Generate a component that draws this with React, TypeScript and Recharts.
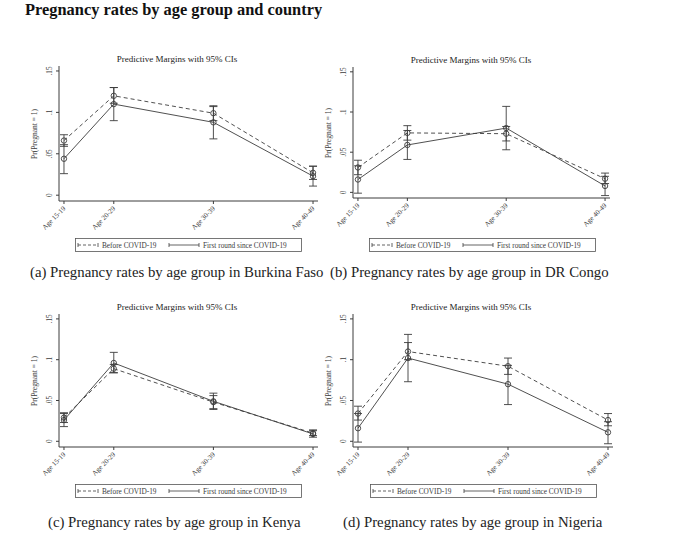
import React from 'react';
import { ErrorBar, Line, LineChart, XAxis, YAxis } from 'recharts';

const ageX = [15, 20, 30, 40];
const ageLabels = ['Age 15-19', 'Age 20-29', 'Age 30-39', 'Age 40-49'];
const yTicks = [0, 0.05, 0.1, 0.15];
const yTickLabels = ['0', '.05', '.1', '.15'];

// Burkina Faso
const bfBefore = [0.066, 0.12, 0.099, 0.027];
const bfBeforeLo = [0.059, 0.111, 0.09, 0.019];
const bfBeforeHi = [0.073, 0.13, 0.108, 0.035];
const bfAfter = [0.044, 0.11, 0.088, 0.023];
const bfAfterLo = [0.026, 0.09, 0.068, 0.011];
const bfAfterHi = [0.061, 0.13, 0.107, 0.035];

// DR Congo
const drBefore = [0.031, 0.074, 0.073, 0.017];
const drBeforeLo = [0.022, 0.065, 0.064, 0.011];
const drBeforeHi = [0.04, 0.083, 0.082, 0.024];
const drAfter = [0.016, 0.059, 0.08, 0.008];
const drAfterLo = [-0.001, 0.041, 0.053, -0.004];
const drAfterHi = [0.033, 0.077, 0.107, 0.02];

// Kenya
const keBefore = [0.029, 0.089, 0.048, 0.01];
const keBeforeLo = [0.023, 0.084, 0.04, 0.007];
const keBeforeHi = [0.035, 0.094, 0.056, 0.013];
const keAfter = [0.026, 0.096, 0.049, 0.009];
const keAfterLo = [0.018, 0.084, 0.039, 0.005];
const keAfterHi = [0.034, 0.109, 0.059, 0.014];

// Nigeria
const ngBefore = [0.034, 0.11, 0.092, 0.026];
const ngBeforeLo = [0.026, 0.1, 0.082, 0.019];
const ngBeforeHi = [0.043, 0.121, 0.102, 0.034];
const ngAfter = [0.016, 0.102, 0.07, 0.011];
const ngAfterLo = [-0.001, 0.073, 0.045, -0.003];
const ngAfterHi = [0.034, 0.131, 0.093, 0.024];

const ink = '#3c3c3c';
const serif = '"Liberation Serif", "DejaVu Serif", serif';
const xDomain = [14.5, 40.5];
const yDomain = [-0.007, 0.156];

const XTick = (props: any) => {
	const { x, y, payload } = props;
	const label = ageLabels[ageX.indexOf(payload.value)];
	const px = x + 2;
	const py = y + 3;
	return (
		<text x={px} y={py} transform={`rotate(-45 ${px} ${py})`} textAnchor='end' fontSize={7} fill={ink} fontFamily={serif}>
			{label}
		</text>
	);
};

const YTick = (props: any) => {
	const { x, y, payload } = props;
	const label = yTickLabels[yTicks.indexOf(payload.value)];
	const px = x - 2;
	return (
		<text x={px} y={y} transform={`rotate(-90 ${px} ${y})`} textAnchor='middle' fontSize={7.2} fill={ink} fontFamily={serif}>
			{label}
		</text>
	);
};

const LegendBox = ({ left, top }: { left: number; top: number }) => (
	<svg style={{ position: 'absolute', left, top }} width={228} height={14}>
		<rect x={0.5} y={0.5} width={226} height={13} fill='#fff' stroke='#555' strokeWidth={0.8} />
		<line x1={3} y1={7} x2={23} y2={7} stroke={ink} strokeWidth={0.8} strokeDasharray='3 2' />
		<line x1={3} y1={5} x2={3} y2={9} stroke={ink} strokeWidth={0.8} />
		<line x1={23} y1={5} x2={23} y2={9} stroke={ink} strokeWidth={0.8} />
		<text x={27} y={9.5} fontSize={7.3} fill={ink} fontFamily={serif}>Before COVID-19</text>
		<line x1={94} y1={7} x2={124} y2={7} stroke={ink} strokeWidth={0.8} />
		<line x1={94} y1={5} x2={94} y2={9} stroke={ink} strokeWidth={0.8} />
		<line x1={124} y1={5} x2={124} y2={9} stroke={ink} strokeWidth={0.8} />
		<text x={128} y={9.5} fontSize={7.3} fill={ink} fontFamily={serif}>First round since COVID-19</text>
	</svg>
);

interface Geo {
	left: number;
	top: number;
	w: number;
	h: number;
	titleX: number;
	titleY: number;
	legendX: number;
	legendY: number;
}

interface PanelProps {
	g: Geo;
	before: number[];
	beforeLo: number[];
	beforeHi: number[];
	after: number[];
	afterLo: number[];
	afterHi: number[];
}

const Panel = ({ g, before, beforeLo, beforeHi, after, afterLo, afterHi }: PanelProps) => {
	const data = ageX.map((age, i) => ({
		age,
		before: before[i],
		beforeErr: [before[i] - beforeLo[i], beforeHi[i] - before[i]],
		after: after[i],
		afterErr: [after[i] - afterLo[i], afterHi[i] - after[i]],
	}));
	return (
		<>
			<div
				style={{
					position: 'absolute',
					left: g.titleX - 100,
					top: g.titleY - 6,
					width: 200,
					textAlign: 'center',
					fontSize: 9,
					lineHeight: '12px',
					fontFamily: serif,
					color: '#222',
				}}
			>
				Predictive Margins with 95% CIs
			</div>
			<div
				style={{
					position: 'absolute',
					left: g.left - 30,
					top: g.top + g.h / 2 - 50,
					width: 12,
					height: 100,
				}}
			>
				<div
					style={{
						position: 'absolute',
						left: -44,
						top: 44,
						width: 100,
						height: 12,
						transform: 'rotate(-90deg)',
						textAlign: 'center',
						fontSize: 7.5,
						lineHeight: '12px',
						fontFamily: serif,
						color: ink,
					}}
				>
					Pr(Pregnant = 1)
				</div>
			</div>
			<div style={{ position: 'absolute', left: g.left - 40, top: g.top - 10 }}>
				<LineChart width={g.w + 50} height={g.h + 45} data={data} margin={{ top: 10, right: 10, left: 0, bottom: 0 }}>
					<XAxis
						dataKey='age'
						type='number'
						domain={xDomain}
						ticks={ageX}
						allowDataOverflow
						height={35}
						tickSize={3}
						tick={<XTick />}
						stroke={ink}
						interval={0}
					/>
					<XAxis xAxisId='top' orientation='top' type='number' domain={xDomain} height={0} tick={false} tickLine={false} stroke={ink} />
					<YAxis
						type='number'
						domain={yDomain}
						ticks={yTicks}
						allowDataOverflow
						width={40}
						tickSize={3}
						tick={<YTick />}
						stroke={ink}
						interval={0}
					/>
					<YAxis yAxisId='right' orientation='right' type='number' domain={yDomain} width={0} tick={false} tickLine={false} stroke={ink} />
					<Line
						dataKey='before'
						stroke={ink}
						strokeWidth={0.9}
						strokeDasharray='4 3'
						dot={{ r: 2.7, fill: 'none', stroke: ink, strokeWidth: 0.9, strokeDasharray: '' }}
						isAnimationActive={false}
					>
						<ErrorBar dataKey='beforeErr' direction='y' width={4} stroke={ink} strokeWidth={0.9} />
					</Line>
					<Line
						dataKey='after'
						stroke={ink}
						strokeWidth={0.9}
						dot={{ r: 2.7, fill: 'none', stroke: ink, strokeWidth: 0.9 }}
						isAnimationActive={false}
					>
						<ErrorBar dataKey='afterErr' direction='y' width={4} stroke={ink} strokeWidth={0.9} />
					</Line>
				</LineChart>
			</div>
			<LegendBox left={g.legendX} top={g.legendY} />
		</>
	);
};

const Caption = ({ x, y, text }: { x: number; y: number; text: string }) => (
	<div
		style={{
			position: 'absolute',
			left: x,
			top: y - 10,
			fontSize: 14.8,
			lineHeight: '20px',
			fontFamily: serif,
			color: '#222',
			whiteSpace: 'nowrap',
		}}
	>
		{text}
	</div>
);

const geo1: Geo = { left: 59, top: 66, w: 259, h: 135, titleX: 177, titleY: 59, legendX: 75, legendY: 238 };
const geo2: Geo = { left: 353, top: 67, w: 257, h: 131, titleX: 471, titleY: 60, legendX: 369, legendY: 238 };
const geo3: Geo = { left: 59, top: 314, w: 259, h: 133, titleX: 177, titleY: 307, legendX: 75, legendY: 484 };
const geo4: Geo = { left: 353, top: 314, w: 260, h: 133, titleX: 471, titleY: 307, legendX: 370, legendY: 484 };

export default function App() {
	return (
		<div style={{ position: 'absolute', left: 0, top: 0, width: 680, height: 543, background: '#fff', overflow: 'hidden' }}>
			<div
				style={{
					position: 'absolute',
					left: 25,
					top: 0,
					fontSize: 16.4,
					lineHeight: '20px',
					fontWeight: 'bold',
					fontFamily: serif,
					color: '#111',
					whiteSpace: 'nowrap',
				}}
			>
				Pregnancy rates by age group and country
			</div>
			<Panel g={geo1} before={bfBefore} beforeLo={bfBeforeLo} beforeHi={bfBeforeHi} after={bfAfter} afterLo={bfAfterLo} afterHi={bfAfterHi} />
			<Panel g={geo2} before={drBefore} beforeLo={drBeforeLo} beforeHi={drBeforeHi} after={drAfter} afterLo={drAfterLo} afterHi={drAfterHi} />
			<Panel g={geo3} before={keBefore} beforeLo={keBeforeLo} beforeHi={keBeforeHi} after={keAfter} afterLo={keAfterLo} afterHi={keAfterHi} />
			<Panel g={geo4} before={ngBefore} beforeLo={ngBeforeLo} beforeHi={ngBeforeHi} after={ngAfter} afterLo={ngAfterLo} afterHi={ngAfterHi} />
			<Caption x={30} y={272} text='(a) Pregnancy rates by age group in Burkina Faso' />
			<Caption x={330} y={272} text='(b) Pregnancy rates by age group in DR Congo' />
			<Caption x={48} y={522} text='(c) Pregnancy rates by age group in Kenya' />
			<Caption x={343} y={522} text='(d) Pregnancy rates by age group in Nigeria' />
		</div>
	);
}
